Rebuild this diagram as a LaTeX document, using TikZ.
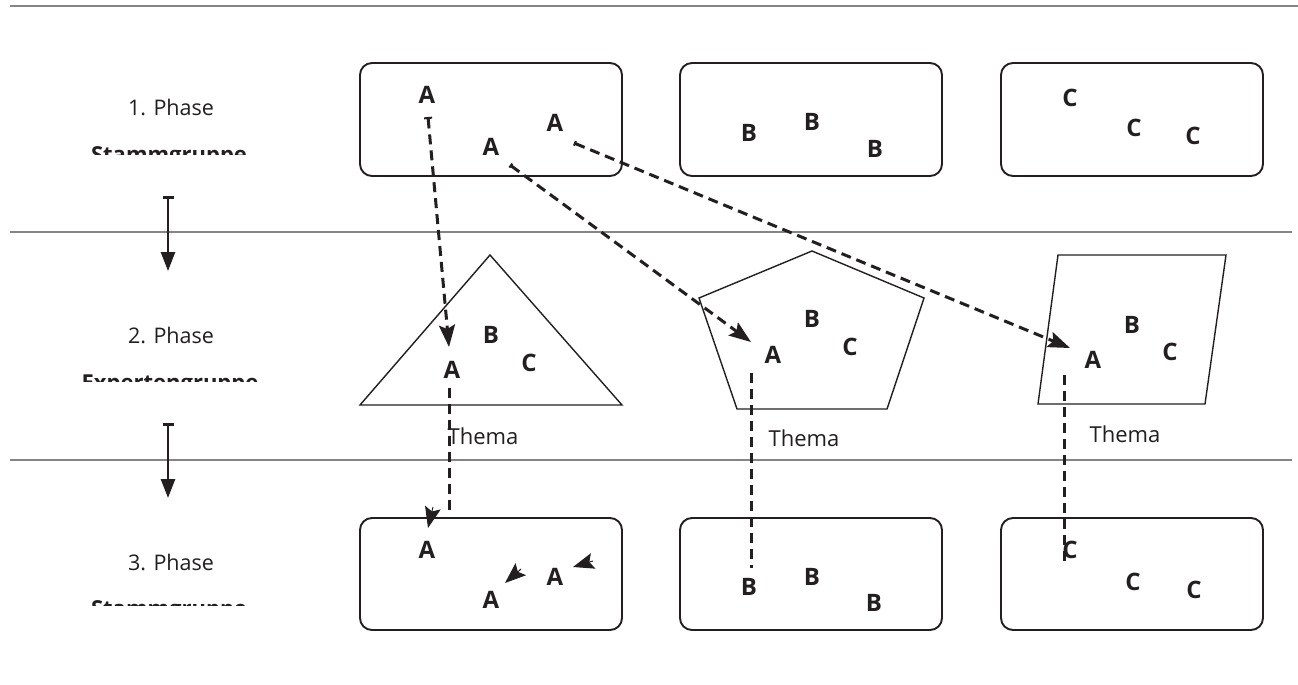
\documentclass[tikz,border=0pt]{standalone}
\usepackage{fontspec}
\setmainfont{Open Sans}
\usetikzlibrary{arrows.meta}
\definecolor{sepgray}{HTML}{858585}
\definecolor{ink}{HTML}{231F20}
\tikzset{
  sep/.style={draw=sepgray, line width=2pt},
  grpbox/.style={draw=ink, line width=1.9pt, rounded corners=12pt, minimum width=262pt, inner sep=0pt},
  shapeline/.style={draw=ink, line width=1.4pt, line join=miter},
  ltr/.style={font=\fontsize{24}{24}\selectfont\bfseries, text=ink, inner sep=0pt},
  phase/.style={font=\fontsize{21.5}{21.5}\selectfont, text=ink, inner sep=0pt},
  thema/.style={font=\fontsize{22}{22}\selectfont, text=ink, inner sep=0pt},
  grp/.style={font=\fontsize{22}{22}\selectfont\bfseries, text=ink, inner sep=0pt, anchor=north},
  move/.style={draw=ink, line width=3pt, dash pattern=on 10pt off 6pt},
  tiponly/.style={draw=ink, line width=1pt, -{Stealth[length=21pt,width=16pt,inset=4pt]}},
  flow/.style={draw=ink, line width=2.6pt, {Bar[width=11pt,line width=2.6pt]}-{Triangle[length=19pt,width=14pt]}},
}
\begin{document}
\begin{tikzpicture}[x=1pt,y=-1pt]
\useasboundingbox (0,0) rectangle (1298,685);
\fill[white] (0,0) rectangle (1298,685);

% separator lines
\coordinate (l1a) at (10,6);   \coordinate (l1b) at (1298,6);
\coordinate (l2a) at (10,232); \coordinate (l2b) at (1292,232);
\coordinate (l3a) at (10,460); \coordinate (l3b) at (1292,460);
\draw[sep] (l1a) -- (l1b);
\draw[sep] (l2a) -- (l2b);
\draw[sep] (l3a) -- (l3b);

% phase labels
\node[phase] (p1) at (171,107) {1. Phase};
\node[phase] (p2) at (171,335) {2. Phase};
\node[phase] (p3) at (171,562) {3. Phase};
\begin{scope}
  \clip (40,140) rectangle (300,154);
  \node[grp] (g1) at (169,146) {Stammgruppe};
\end{scope}
\begin{scope}
  \clip (40,368) rectangle (300,381);
  \node[grp] (g2) at (170,375) {Expertengruppe};
\end{scope}
\begin{scope}
  \clip (40,594) rectangle (300,605.5);
  \node[grp] (g3) at (169,600) {Stammgruppe};
\end{scope}

% phase flow arrows
\coordinate (f1s) at (168,196); \coordinate (f1e) at (168,271);
\coordinate (f2s) at (168,423); \coordinate (f2e) at (168,498);
\draw[flow] (f1s) -- (f1e);
\draw[flow] (f2s) -- (f2e);

% group boxes, phase 1
\node[grpbox, minimum height=113pt] (b11) at (491,119.5) {};
\node[grpbox, minimum height=113pt] (b12) at (811,119.5) {};
\node[grpbox, minimum height=113pt] (b13) at (1132,119.5) {};
% group boxes, phase 3
\node[grpbox, minimum height=112pt] (b31) at (491,574) {};
\node[grpbox, minimum height=112pt] (b32) at (811,574) {};
\node[grpbox, minimum height=112pt] (b33) at (1132,574) {};

% expert shapes
\coordinate (t1) at (490,255); \coordinate (t2) at (622,405); \coordinate (t3) at (360,405);
\draw[shapeline] (t1) -- (t2) -- (t3) -- cycle;
\coordinate (q1) at (812,251); \coordinate (q2) at (924,298); \coordinate (q3) at (887,409);
\coordinate (q4) at (737,409); \coordinate (q5) at (699,298);
\draw[shapeline] (q1) -- (q2) -- (q3) -- (q4) -- (q5) -- cycle;
\coordinate (r1) at (1058,255); \coordinate (r2) at (1226,255); \coordinate (r3) at (1205,404); \coordinate (r4) at (1038,404);
\draw[shapeline] (r1) -- (r2) -- (r3) -- (r4) -- cycle;

% letters phase 1
\node[ltr] (a11) at (427,95) {A};
\node[ltr] (a12) at (555,123) {A};
\node[ltr] (a13) at (491,147) {A};
\node[ltr] (b1a) at (749,133) {B};
\node[ltr] (b1b) at (812,122) {B};
\node[ltr] (b1c) at (875,149) {B};
\node[ltr] (c1a) at (1070,98) {C};
\node[ltr] (c1b) at (1134,128) {C};
\node[ltr] (c1c) at (1193,136) {C};

% letters phase 2
\node[ltr] (ta) at (452,370) {A};
\node[ltr] (tb) at (491,335) {B};
\node[ltr] (tc) at (529,363) {C};
\node[ltr] (pa) at (773,355) {A};
\node[ltr] (pb) at (812,319) {B};
\node[ltr] (pc) at (850,347) {C};
\node[ltr] (ra) at (1093,360) {A};
\node[ltr] (rb) at (1132,325) {B};
\node[ltr] (rc) at (1170,352) {C};
\node[thema] (th1) at (483,436) {Thema};
\node[thema] (th2) at (804,438) {Thema};
\node[thema] (th3) at (1125,434) {Thema};

% letters phase 3
\node[ltr] (a31) at (427,550) {A};
\node[ltr] (a32) at (555,577) {A};
\node[ltr] (a33) at (491,600) {A};
\node[ltr] (b3a) at (749,587) {B};
\node[ltr] (b3b) at (812,577) {B};
\node[ltr] (b3c) at (874,603) {B};
\node[ltr] (c3a) at (1070,550) {C};
\node[ltr] (c3b) at (1133,582) {C};
\node[ltr] (c3c) at (1194,590) {C};

% moves from phase 1 to phase 2
\coordinate (m1s) at (428,117); \coordinate (m1e) at (449,347);
\coordinate (m2s) at (510,165); \coordinate (m2e) at (751,342);
\coordinate (m3s) at (574,143); \coordinate (m3e) at (1070,348);
\draw[move, {Bar[width=8pt,line width=2pt]}-{Stealth[length=22pt,width=16pt,inset=4pt]}] (m1s) -- (m1e);
\draw[move, {Bar[width=5pt,line width=2pt]}-{Stealth[length=22pt,width=16pt,inset=4pt]}] (m2s) -- (m2e);
\draw[move, {Bar[width=5pt,line width=2pt]}-{Stealth[length=22pt,width=16pt,inset=4pt]}] (m3s) -- (m3e);

% moves from phase 2 to phase 3
\coordinate (n1s) at (449,388); \coordinate (n1e) at (449,510);
\coordinate (n2s) at (751,373); \coordinate (n2e) at (751,568);
\coordinate (n3s) at (1064,375); \coordinate (n3e) at (1064,562);
\draw[move] (n1s) -- (n1e);
\draw[move] (n2s) -- (n2e);
\draw[move] (n3s) -- (n3e);

% loose arrow tips in phase 3
\coordinate (h1s) at (433,507) ; \coordinate (h1e) at (428,528);
\coordinate (h2s) at (521,569); \coordinate (h2e) at (505,583);
\coordinate (h3s) at (593,561); \coordinate (h3e) at (573,567);
\draw[tiponly] (h1s) -- (h1e);
\draw[tiponly] (h2s) -- (h2e);
\draw[tiponly] (h3s) -- (h3e);
\end{tikzpicture}
\end{document}
